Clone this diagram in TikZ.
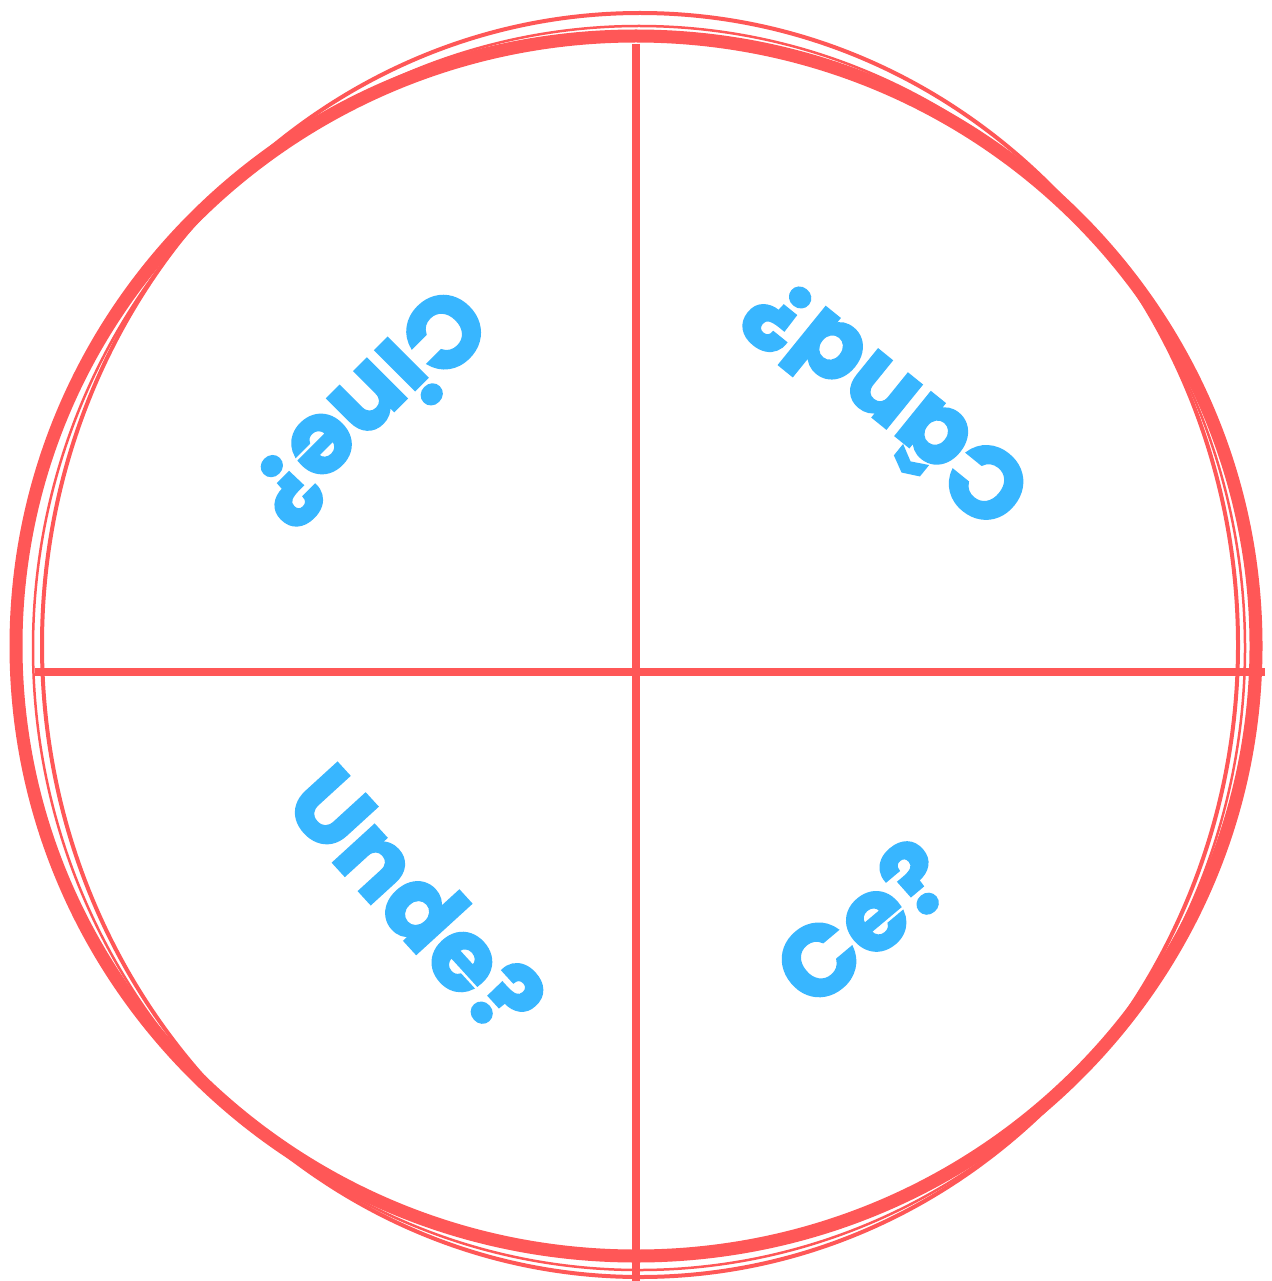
\documentclass[tikz,border=0pt]{standalone}
\usepackage{fontspec}
\setmainfont{Poppins}
\definecolor{wred}{HTML}{FF5757}
\definecolor{wblue}{HTML}{38B6FF}
\tikzset{
  ring/.style={draw=wred,line width=#1},
  ring/.default=4pt,
  split/.style={draw=wred,line width=8pt},
  qword/.style={text=wblue,font=\fontsize{100}{110}\selectfont\bfseries\addfontfeature{FakeBold=2.5},inner sep=0pt},
}
\begin{document}
\begin{tikzpicture}[x=1pt,y=-1pt]
  \fill[white] (0,0) rectangle (1271,1281);
  \useasboundingbox (0,0) rectangle (1271,1281);
  % sketched rim
  \draw[ring=13pt] (636,646) ellipse [x radius=620,y radius=610];
  \draw[ring=4pt] (640,645) ellipse [x radius=598,y radius=632];
  \draw[ring=2.5pt] (639,648) ellipse [x radius=606,y radius=622];
  % quadrants
  \draw[split] (636,44) -- (636,1281);
  \draw[split] (35,672) -- (1265,672);
  % questions
  \foreach \t/\x/\y/\a [count=\ix] in {Cine?/372/410/225, Când?/884/405/141, Unde?/417/900/-47.6, Ce?/862/922/40}
    \node[qword,rotate=\a] (q\ix) at (\x,\y) {\t};
\end{tikzpicture}
\end{document}
